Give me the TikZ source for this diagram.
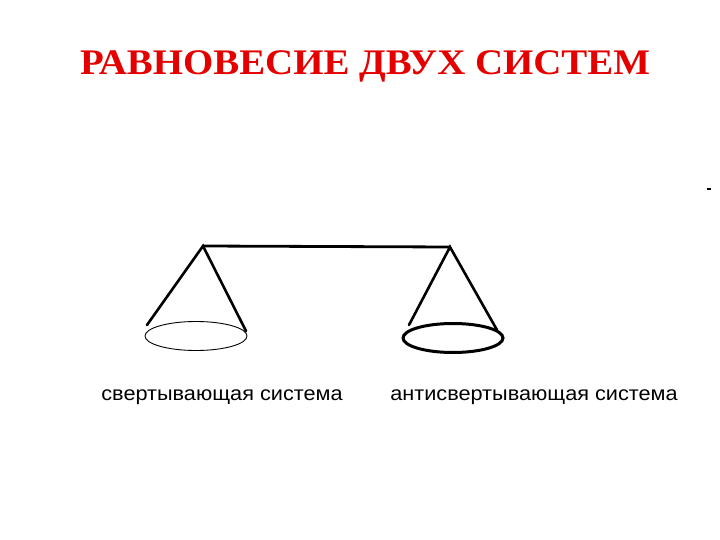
\documentclass[tikz,border=0pt]{standalone}
\usepackage{fontspec}
\setmainfont{Liberation Serif}
\newfontfamily\labelfont{Liberation Sans}
\begin{document}
\begin{tikzpicture}[x=1pt,y=-1pt]
    \tikzstyle{heading}=[text=red!90!black, font=\fontsize{36}{40}\selectfont\bfseries, inner sep=0pt, xscale=1.08]
    \tikzstyle{caption}=[font=\labelfont\fontsize{20}{22}\selectfont, inner sep=0pt, xscale=1.085]
    \tikzstyle{string}=[line width=2.6pt, line cap=round]
    \useasboundingbox[fill=white] (0,0) rectangle (720,540);
    \node[heading] (title) at (365,66){РАВНОВЕСИЕ ДВУХ СИСТЕМ};
    % beam and hanging points
    \coordinate (lt) at (203,246);
    \coordinate (rt) at (450,247);
    \draw[line width=2.8pt] (lt) -- (rt);
    % left pan
    \coordinate (l1) at (147,325);
    \coordinate (l2) at (246,331);
    \draw[string] (l1) -- (lt) -- (l2);
    \draw[line width=0.9pt] (196,336) ellipse (51 and 14.5);
    % right pan
    \coordinate (r1) at (409,325);
    \coordinate (r2) at (497,330);
    \draw[string] (r1) -- (rt) -- (r2);
    \draw[line width=3pt] (453,338) ellipse (50 and 14.5);
    \node[caption] (cl) at (222,397){свертывающая система};
    \node[caption] (cr) at (534,397){антисвертывающая система};
    \draw[line width=1.5pt] (707,189) -- (711,189);
\end{tikzpicture}
\end{document}
